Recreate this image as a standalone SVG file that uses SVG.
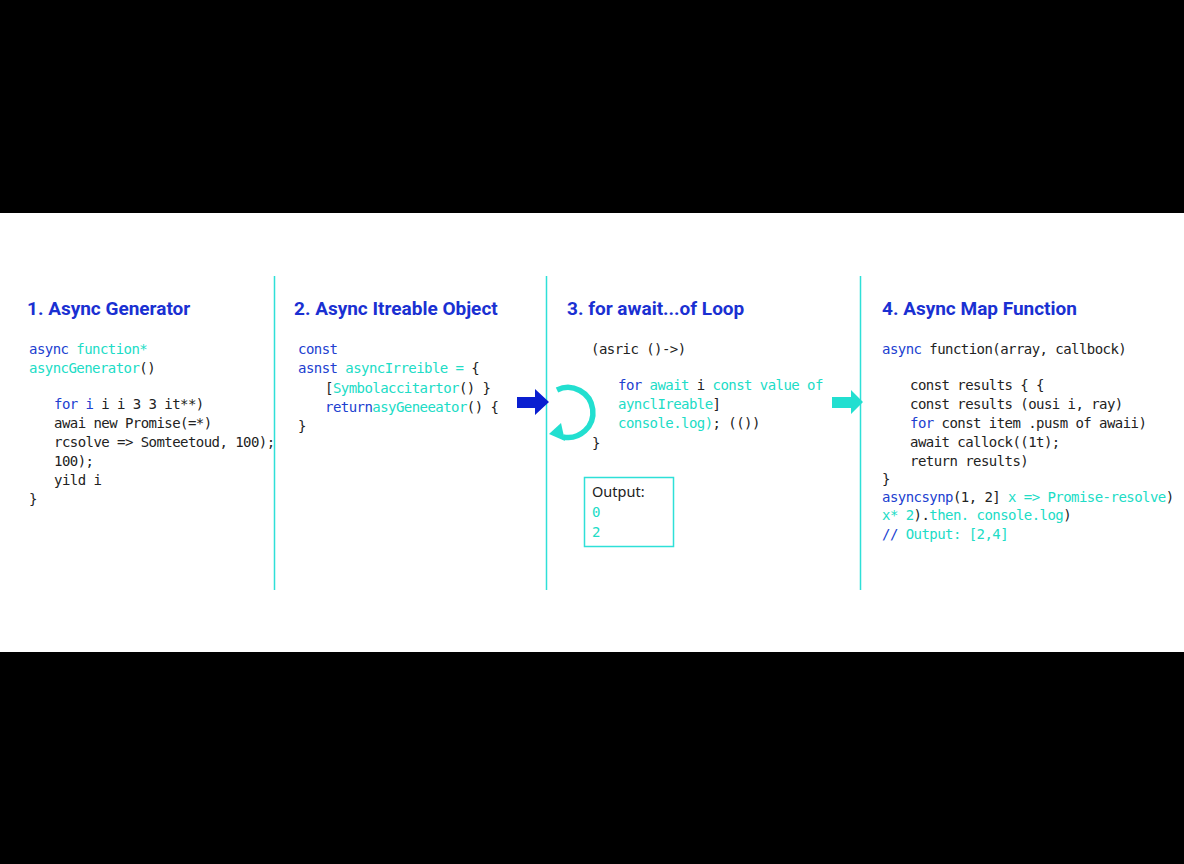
<svg xmlns="http://www.w3.org/2000/svg" width="1184" height="864" viewBox="0 0 1184 864">
<style>
.title{font-family:Roboto,"Liberation Sans",sans-serif;font-weight:700;font-size:19px;fill:#1a30d2}
.code{font-family:"DejaVu Sans Mono","Liberation Mono",monospace;font-size:14px;letter-spacing:-0.55px;fill:#222}
.kw{fill:#2040d0}
.cy{fill:#20dcc6}
.dk{fill:#222}
.sans{font-family:"Noto Sans","Liberation Sans",sans-serif;font-size:14.5px;fill:#222}
.divider{stroke:#2ee0d8;stroke-width:1.5}
</style>
<rect x="0" y="0" width="1184" height="864" fill="#000"/>
<rect x="0" y="213" width="1184" height="439" fill="#fff"/>

<g id="dividers">
<line class="divider" x1="274.5" y1="276" x2="274.5" y2="590"/>
<line class="divider" x1="546.5" y1="276" x2="546.5" y2="590"/>
<line class="divider" x1="860.5" y1="276" x2="860.5" y2="590"/>
</g>

<g id="node-async-generator">
<text class="title" x="27" y="315">1. Async Generator</text>
<text class="code" x="29" y="354"><tspan class="kw">async</tspan> <tspan class="cy">function*</tspan></text>
<text class="code" x="29" y="373"><tspan class="cy">asyncGenerator</tspan>()</text>
<text class="code" x="54" y="409"><tspan class="kw">for i</tspan> i i 3 3 it**)</text>
<text class="code" x="54" y="428">awai  new Promise(=*)</text>
<text class="code" x="54" y="447">rcsolve =&gt; Somteetoud, 100);</text>
<text class="code" x="54" y="466">100);</text>
<text class="code" x="54" y="485">yild i</text>
<text class="code" x="29" y="504">}</text>
</g>

<g id="node-async-iterable">
<text class="title" x="294" y="315">2. Async Itreable Object</text>
<text class="code" x="298" y="354"><tspan class="kw">const</tspan></text>
<text class="code" x="298" y="373"><tspan class="kw">asnst</tspan> <tspan class="cy">asyncIrreible =</tspan> {</text>
<text class="code" x="325" y="393">[<tspan class="cy">Symbolaccitartor</tspan>() }</text>
<text class="code" x="325" y="412"><tspan class="kw">return</tspan><tspan class="cy">asyGeneeator</tspan>() {</text>
<text class="code" x="298" y="431">}</text>
</g>

<g id="node-for-await">
<text class="title" x="567" y="315">3. for await...of Loop</text>
<text class="code" x="591" y="354">(asric ()-&gt;)</text>
<text class="code" x="618" y="390"><tspan class="kw">for</tspan> <tspan class="cy">await</tspan> i <tspan class="cy">const value of</tspan></text>
<text class="code" x="618" y="409"><tspan class="cy">aynclIreable</tspan>]</text>
<text class="code" x="618" y="428"><tspan class="cy">console.log)</tspan>; (())</text>
<text class="code" x="592" y="448">}</text>
<g id="node-output">
<rect x="584.5" y="477.5" width="89" height="69" fill="#fff" stroke="#2ee0d8" stroke-width="1.5"/>
<text class="sans" x="592" y="497">Output:</text>
<text class="code cy" x="592" y="517">0</text>
<text class="code cy" x="592" y="537">2</text>
</g>
</g>

<g id="node-async-map">
<text class="title" x="882" y="315">4. Async Map Function</text>
<text class="code" x="882" y="354"><tspan class="kw">async</tspan> function(array, callbock)</text>
<text class="code" x="910" y="390">const results { {</text>
<text class="code" x="910" y="409">const results (ousi i, ray)</text>
<text class="code" x="910" y="428"><tspan class="kw">for</tspan> const item .pusm of awaii)</text>
<text class="code" x="910" y="447">await callock((1t);</text>
<text class="code" x="910" y="466">return results)</text>
<text class="code" x="882" y="484">}</text>
<text class="code" x="882" y="502"><tspan class="kw">asyncsynp</tspan>(1, 2] <tspan class="cy">x =&gt; Promise-resolve</tspan>)</text>
<text class="code" x="882" y="520"><tspan class="cy">x* 2</tspan>).<tspan class="cy">then. console.log</tspan>)</text>
<text class="code" x="882" y="539"><tspan class="kw">//</tspan> <tspan class="cy">Output: [2,4]</tspan></text>
</g>

<g id="connectors">
<polygon points="517,397 535,397 535,389 549,402 535,415 535,408 517,408" fill="#0a1fd0"/>
<path d="M557,390 A25,25 0 1 1 563,437" fill="none" stroke="#22dfd0" stroke-width="5.5"/>
<polygon points="549,434 561,423 565,441" fill="#22dfd0"/>
<polygon points="832,397 851,397 851,390 863,402 851,414 851,408 832,408" fill="#22dfd0"/>
</g>
</svg>
